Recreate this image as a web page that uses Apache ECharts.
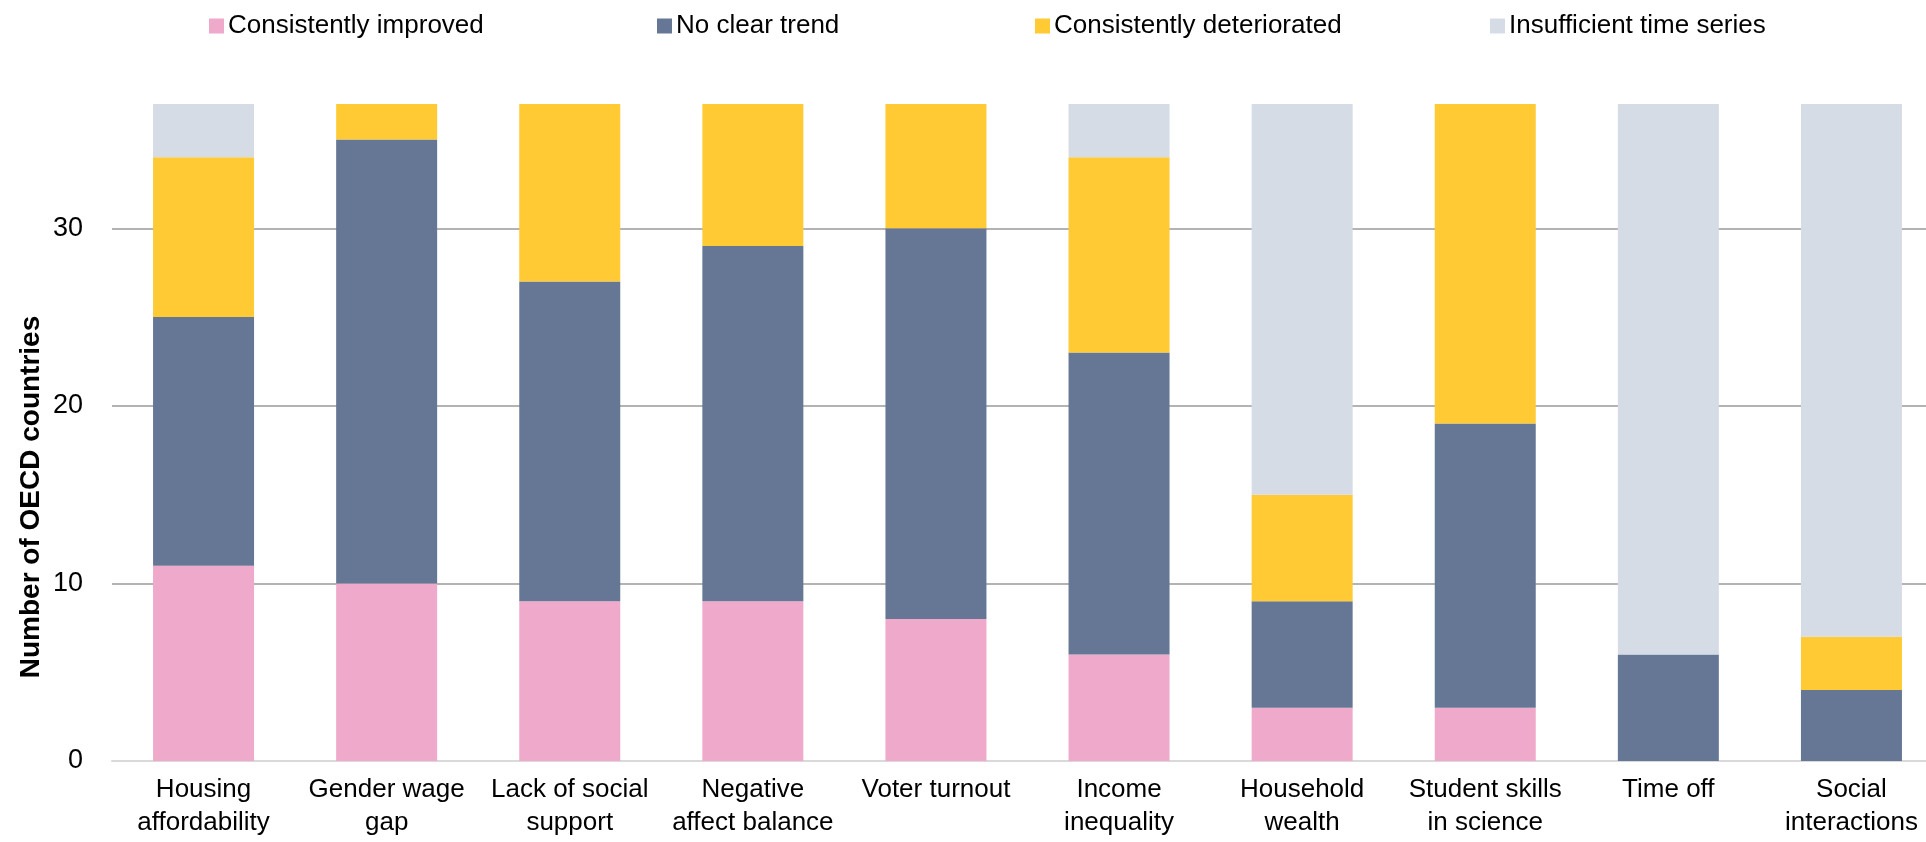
<!DOCTYPE html>
<html>
<head>
<meta charset="utf-8">
<script src="https://cdn.jsdelivr.net/npm/echarts@6/dist/echarts.min.js"></script>
<style>
html,body{margin:0;padding:0;background:#fff;}
#chart{width:1926px;height:842px;}
</style>
</head>
<body>
<div id="chart"></div>
<script>
const categories = ['Housing\naffordability','Gender wage\ngap','Lack of social\nsupport','Negative\naffect balance','Voter turnout','Income\ninequality','Household\nwealth','Student skills\nin science','Time off','Social\ninteractions'];
const improved = [11,10,9,9,8,6,3,3,0,0];
const noTrend = [14,25,18,20,22,17,6,16,6,4];
const deteriorated = [9,2,10,8,7,11,6,18,0,3];
const insufficient = [3,0,0,0,0,3,22,0,31,30];
const seriesNames = ['Consistently improved','No clear trend','Consistently deteriorated','Insufficient time series'];
const colors = ['#EFA9CB','#667795','#FFCA33','#D6DCE5'];
const yTicks = [0,10,20,30];

const FONT = 'Liberation Sans, Arial, sans-serif';
const chart = echarts.init(document.getElementById('chart'));
const legendLefts = [204,652,1030,1485];
const dataArr = [improved, noTrend, deteriorated, insufficient];
chart.setOption({
  animation:false,
  color: colors,
  legend: seriesNames.map((n,i)=>({
    data:[n], left: legendLefts[i], top: 8, itemWidth:15, itemHeight:15, icon:'rect',
    textStyle:{fontFamily:FONT, fontSize:26, color:'#000', padding:[0,0,0,-1]}
  })),
  grid:{left:112, width:1831, top:104, bottom:81, outerBounds:{left:0, top:0, right:-150, bottom:0}},
  xAxis:{
    type:'category', data:categories,
    axisLine:{show:true, lineStyle:{color:'#d9d9d9', width:2}},
    axisTick:{show:false},
    axisLabel:{fontFamily:FONT, fontSize:26, color:'#000', lineHeight:33, margin:12, interval:0}
  },
  yAxis:{
    type:'value', min:0, max:37, interval:10,
    axisLine:{show:false}, axisTick:{show:false},
    axisLabel:{fontFamily:FONT, fontSize:27, color:'#000', margin:29, showMaxLabel:false,
      formatter:v=> yTicks.includes(v)? String(v) : ''},
    splitLine:{show:true, showMinLine:false, showMaxLine:false, lineStyle:{color:'#9a9a9a', width:1.5}}
  },
  graphic:[{
    type:'text', x:31, y:497, rotation:Math.PI/2,
    style:{text:'Number of OECD countries', fontFamily:FONT, fontSize:28, fontWeight:'bold', fill:'#000', align:'center', verticalAlign:'middle'}
  }],
  series: seriesNames.map((n,i)=>({
    name:n, type:'bar', stack:'total', barWidth:101, data:dataArr[i],
    itemStyle:{color:colors[i]}
  }))
});
</script>
</body>
</html>
